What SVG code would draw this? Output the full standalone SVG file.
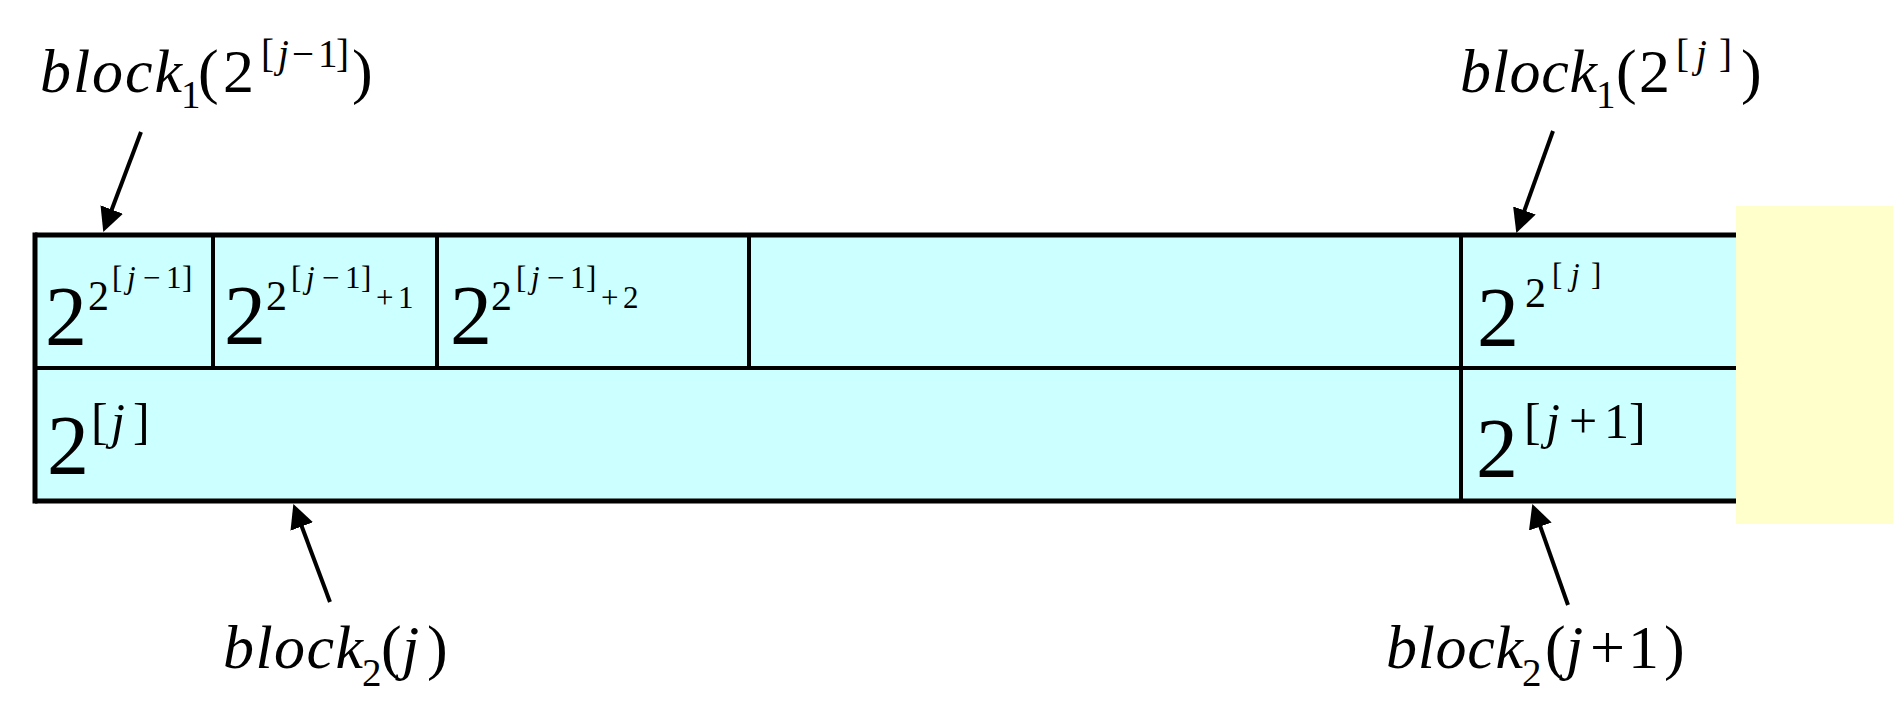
<svg xmlns="http://www.w3.org/2000/svg" width="1897" height="728" viewBox="0 0 1897 728">
<style>
text{font-family:'Liberation Serif','Times New Roman',serif;fill:#000}
.i{font-style:italic}
.L{font-size:62px}
.Ls{font-size:39px}
.B{font-size:84px}
.S1{font-size:50px}
.S2{font-size:42px}
.S3{font-size:31px}
.ob{stroke:#000;stroke-width:5;fill:none}
.ib{stroke:#000;stroke-width:4;fill:none}
.ar{stroke:#000;stroke-width:4;fill:none;marker-end:url(#ah)}
</style>
<defs>
<marker id="ah" viewBox="0 0 24 24" refX="1" refY="12" markerWidth="24" markerHeight="24" markerUnits="userSpaceOnUse" orient="auto">
<path d="M0,0 L24,12 L0,24 z" fill="#000"/>
</marker>
</defs>
<rect width="1897" height="728" fill="#fff"/>
<g id="array">
<rect x="35" y="235" width="1701" height="266" fill="#CCFFFF"/>
<line class="ib" x1="35" y1="368" x2="1736" y2="368"/>
<line class="ib" x1="213" y1="235" x2="213" y2="368"/>
<line class="ib" x1="437" y1="235" x2="437" y2="368"/>
<line class="ib" x1="749" y1="235" x2="749" y2="368"/>
<line class="ib" x1="1461" y1="235" x2="1461" y2="501"/>
<line class="ob" x1="35" y1="235" x2="1736" y2="235"/>
<line class="ob" x1="35" y1="501" x2="1736" y2="501"/>
<line class="ob" x1="35" y1="232.5" x2="35" y2="503.5"/>
</g>
<rect id="pad" x="1736" y="206" width="157" height="318" fill="#FFFFCC"/>
<g id="cell1">
<text class="B" x="45" y="345">2</text>
<text class="S2" x="88" y="310">2</text>
<text class="S3" x="112" y="288">[<tspan class="i" x="127">j</tspan><tspan x="143 166 182">−1]</tspan></text>
</g>
<g id="cell2">
<text class="B" x="224" y="344">2</text>
<text class="S2" x="266" y="310">2</text>
<text class="S3" x="291" y="288">[<tspan class="i" x="306">j</tspan><tspan x="322 345 361">−1]</tspan></text>
<text class="S3" x="376" y="308">+<tspan x="398">1</tspan></text>
</g>
<g id="cell3">
<text class="B" x="450" y="344">2</text>
<text class="S2" x="491" y="310">2</text>
<text class="S3" x="516" y="288">[<tspan class="i" x="531">j</tspan><tspan x="547 570 586">−1]</tspan></text>
<text class="S3" x="601" y="308">+<tspan x="623">2</tspan></text>
</g>
<g id="cell5">
<text class="B" x="1477" y="346">2</text>
<text class="S2" x="1525" y="307">2</text>
<text class="S3" x="1552" y="285">[<tspan class="i" x="1571">j</tspan><tspan x="1591">]</tspan></text>
</g>
<g id="cell6">
<text class="B" x="47" y="474">2</text>
<text class="S1" x="91" y="438">[<tspan class="i" x="111">j</tspan><tspan x="133">]</tspan></text>
</g>
<g id="cell7">
<text class="B" x="1476" y="477">2</text>
<text class="S1" x="1524" y="438">[<tspan class="i" x="1546">j</tspan><tspan x="1569 1604 1629">+1]</tspan></text>
</g>
<g id="label-b1-left">
<text class="i L" x="40" y="92" textLength="142" lengthAdjust="spacing">block</text>
<text class="Ls" x="181" y="108">1</text>
<text class="L" x="198" y="92">(<tspan x="223">2</tspan></text>
<text class="Ls" x="261" y="67">[<tspan class="i" x="278">j</tspan><tspan x="292 318 336">−1]</tspan></text>
<text class="L" x="352" y="92">)</text>
</g>
<g id="label-b1-right">
<text class="i L" x="1460" y="92" textLength="137" lengthAdjust="spacing">block</text>
<text class="Ls" x="1596" y="108">1</text>
<text class="L" x="1616" y="92">(<tspan x="1639">2</tspan></text>
<text class="Ls" x="1676" y="67">[<tspan class="i" x="1696">j</tspan><tspan x="1719">]</tspan></text>
<text class="L" x="1741" y="92">)</text>
</g>
<g id="label-b2-left">
<text class="i L" x="223" y="668" textLength="140" lengthAdjust="spacing">block</text>
<text class="Ls" x="362" y="686">2</text>
<text class="L" x="381" y="668">(<tspan class="i" x="402">j</tspan><tspan x="427">)</tspan></text>
</g>
<g id="label-b2-right">
<text class="i L" x="1386" y="668" textLength="137" lengthAdjust="spacing">block</text>
<text class="Ls" x="1522" y="686">2</text>
<text class="L" x="1545" y="668">(<tspan class="i" x="1566">j</tspan><tspan x="1590 1628 1664">+1)</tspan></text>
</g>
<g id="connectors">
<line class="ar" x1="141" y1="132" x2="111.4" y2="210.5"/>
<line class="ar" x1="1553" y1="131" x2="1524.1" y2="211.4"/>
<line class="ar" x1="330" y1="602" x2="301.4" y2="525.5"/>
<line class="ar" x1="1568" y1="605" x2="1540" y2="525.6"/>
</g>
</svg>
